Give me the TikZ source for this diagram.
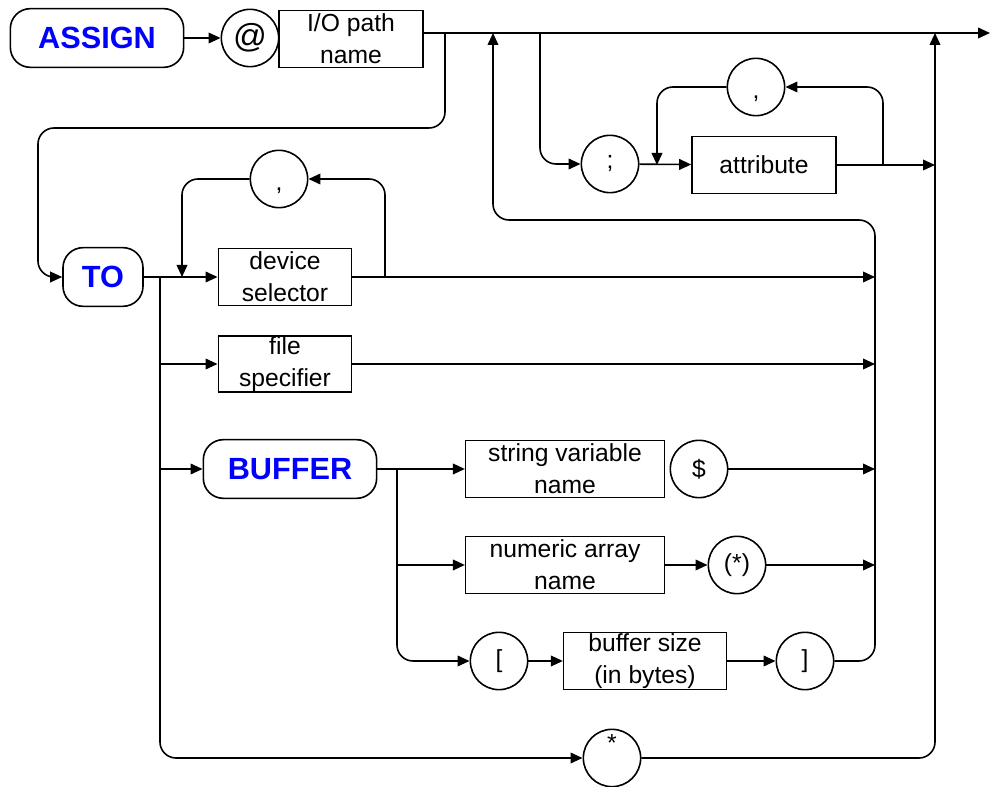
\documentclass[tikz,border=0pt]{standalone}
\usepackage{fontspec}
\setmainfont{Liberation Sans}
\usetikzlibrary{arrows.meta}

\begin{document}
\begin{tikzpicture}[x=0.75pt, y=-0.75pt, line width=1.2pt,
    >={Triangle[length=9pt,width=8pt]},
    txt/.style={font=\fontsize{18.5}{24}\selectfont, align=center, inner sep=0pt},
    box/.style={txt, draw, minimum height=43pt},
    circ/.style={txt, draw, circle, minimum size=43pt},
    kw/.style={draw, rounded corners=15pt, minimum height=44pt, text=blue,
        font=\fontsize{23}{26}\selectfont\bfseries}]

    \useasboundingbox (0,0) rectangle (990,787);

    \node[kw, minimum width=130pt] (0) at (97,38) {ASSIGN};
    \node[circ, font=\fontsize{25}{28}\selectfont] (1) at (250,38) {@};
    \node[box, minimum width=108pt] (2) at (351,39) {I/O path\\name};
    \node[kw, minimum width=60pt] (3) at (103,277) {TO};
    \node[box, minimum width=100pt] (4) at (285,277) {device\\selector};
    \node[circ] (5) at (279,179) {\smash{\raisebox{-9pt}{,}}};
    \node[box, minimum width=100pt, minimum height=42pt] (6) at (285,364) {file\\specifier};
    \node[kw, minimum width=130pt] (7) at (290,469) {BUFFER};
    \node[box, minimum width=149pt] (8) at (565,469) {string variable\\name};
    \node[circ] (9) at (699,469) {\$};
    \node[box, minimum width=149pt] (10) at (565,565) {numeric array\\name};
    \node[circ] (11) at (737,565) {(*)};
    \node[circ] (12) at (499,661) {[};
    \node[box, minimum width=122pt] (13) at (645,661) {buffer size\\(in bytes)};
    \node[circ] (14) at (805,661) {]};
    \node[circ] (15) at (612,758) {\smash{\raisebox{5pt}{*}}};
    \node[circ] (16) at (610,164) {;};
    \node[box, minimum width=108pt] (17) at (764,165) {attribute};
    \node[circ] (18) at (756,87) {\smash{\raisebox{-9pt}{,}}};

    \coordinate (c0) at (445,33);
    \coordinate (c1) at (493,33);
    \coordinate (c2) at (540,33);
    \coordinate (c3) at (935,33);
    \coordinate (c4) at (990,33);
    \coordinate (c5) at (160,277);
    \coordinate (c6) at (385,277);
    \coordinate (c7) at (182,277);
    \coordinate (c8) at (875,277);
    \coordinate (c9) at (397,469);
    \coordinate (c10) at (875,220);
    \coordinate (c11) at (883,165);
    \coordinate (c12) at (657,165);

    \draw[->] (0) -- (1);
    \draw[->] (2.east |- c0) -- (c4);
    \draw[->, rounded corners=12pt] (c0) |- (38,128) |- (3);
    \draw[->] (3) -- (4);
    \draw[->, rounded corners=12pt] (c6) |- (5);
    \draw[->, rounded corners=12pt] (5) -| (c7);
    \draw[->] (4) -- (c8);
    \draw[->] (c5 |- 6) -- (6);
    \draw[->] (6) -- (c8 |- 6);
    \draw[->] (c5 |- 7) -- (7);
    \draw[->, rounded corners=12pt] (c5) |- (15);
    \draw[->] (7) -- (8);
    \draw[->] (9) -- (c8 |- 9);
    \draw[->] (c9 |- 10) -- (10);
    \draw[->] (10) -- (11);
    \draw[->] (11) -- (c8 |- 11);
    \draw[->, rounded corners=12pt] (c9) |- (12);
    \draw[->] (12) -- (13);
    \draw[->] (13) -- (14);
    \draw[->, rounded corners=12pt] (14) -| (c10) -| (c1);
    \draw[->, rounded corners=12pt] (15) -| (c3);
    \draw[->, rounded corners=12pt] (c2) |- (16);
    \draw[->] (16) -- (17);
    \draw[->] (17) -- (c3 |- 17);
    \draw[->, rounded corners=12pt] (c11) |- (18);
    \draw[->, rounded corners=12pt] (18) -| (c12);
\end{tikzpicture}
\end{document}
